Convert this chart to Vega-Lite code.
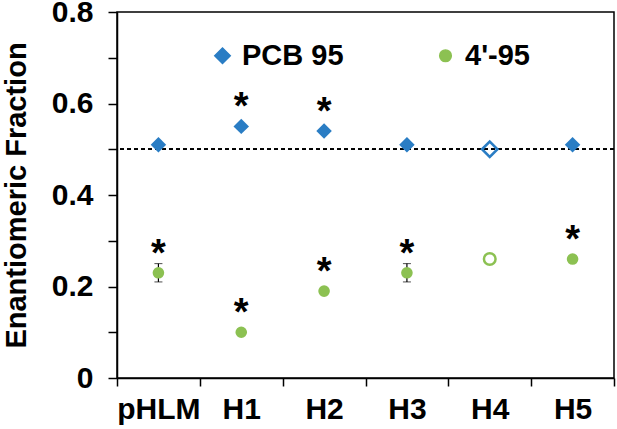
{
  "$schema": "https://vega.github.io/schema/vega-lite/v6.json",
  "autosize": {"type": "none"},
  "width": 497,
  "height": 366,
  "padding": {"left": 117, "top": 12, "right": 3, "bottom": 51},
  "background": "white",
  "config": {
    "view": {"stroke": "black", "strokeWidth": 1.5},
    "font": "Liberation Sans",
    "axis": {"labelFont": "Liberation Sans", "titleFont": "Liberation Sans", "labelFontWeight": "bold", "titleFontWeight": "bold", "labelColor": "black", "titleColor": "black", "domainColor": "black", "tickColor": "black", "domainWidth": 1.5, "tickWidth": 1.5, "grid": false}
  },
  "data": {
    "values": [
      {"cat": "pHLM", "series": "PCB 95", "value": 0.51, "open": false, "star": false},
      {"cat": "H1", "series": "PCB 95", "value": 0.55, "open": false, "star": true},
      {"cat": "H2", "series": "PCB 95", "value": 0.54, "open": false, "star": true},
      {"cat": "H3", "series": "PCB 95", "value": 0.51, "open": false, "star": false},
      {"cat": "H4", "series": "PCB 95", "value": 0.50, "open": true, "star": false},
      {"cat": "H5", "series": "PCB 95", "value": 0.51, "open": false, "star": false},
      {"cat": "pHLM", "series": "4'-95", "value": 0.23, "lo": 0.21, "hi": 0.25, "open": false, "star": true},
      {"cat": "H1", "series": "4'-95", "value": 0.10, "open": false, "star": true},
      {"cat": "H2", "series": "4'-95", "value": 0.19, "open": false, "star": true},
      {"cat": "H3", "series": "4'-95", "value": 0.23, "lo": 0.21, "hi": 0.25, "open": false, "star": true},
      {"cat": "H4", "series": "4'-95", "value": 0.26, "open": true, "star": false},
      {"cat": "H5", "series": "4'-95", "value": 0.26, "open": false, "star": true}
    ]
  },
  "encoding": {
    "x": {
      "field": "cat", "type": "nominal", "sort": ["pHLM", "H1", "H2", "H3", "H4", "H5"],
      "scale": {"paddingInner": 0, "paddingOuter": 0},
      "axis": {"title": null, "labelAngle": 0, "labelFontSize": 30, "tickBand": "extent", "tickSize": 8, "labelPadding": 8}
    },
    "y": {
      "field": "value", "type": "quantitative",
      "scale": {"domain": [0, 0.8], "nice": false},
      "axis": {
        "title": "Enantiomeric Fraction", "titleFontSize": 29, "labelFontSize": 30,
        "values": [0, 0.1, 0.2, 0.3, 0.4, 0.5, 0.6, 0.7, 0.8],
        "labelExpr": "datum.value == 0 ? '0' : (round(datum.value * 10) % 2 == 0 ? format(datum.value, '.1f') : '')",
        "tickSize": 9, "labelPadding": 15, "titlePadding": 20
      }
    }
  },
  "layer": [
    {
      "mark": {"type": "rule", "color": "black", "strokeWidth": 1, "strokeDash": [4, 3]},
      "encoding": {"y": {"datum": 0.5}, "x": null}
    },
    {
      "transform": [{"filter": "isValid(datum.lo)"}],
      "mark": {"type": "errorbar", "ticks": {"size": 8, "color": "black", "strokeWidth": 1.2}, "rule": {"color": "black", "strokeWidth": 1.2}},
      "encoding": {"y": {"field": "lo", "type": "quantitative"}, "y2": {"field": "hi"}}
    },
    {
      "transform": [{"filter": "!datum.open"}],
      "mark": {"type": "point", "filled": true, "opacity": 1},
      "encoding": {
        "color": {"field": "series", "type": "nominal", "scale": {"domain": ["PCB 95", "4'-95"], "range": ["#2A7DC4", "#8CC152"]},
          "legend": {"title": null, "orient": "none", "direction": "horizontal", "legendX": 91, "legendY": 29, "labelFontSize": 29, "labelFontWeight": "bold", "labelFont": "Liberation Sans", "labelColor": "black", "symbolSize": 250, "labelOffset": 5, "columnPadding": 87, "padding": 0, "symbolOpacity": 1}},
        "shape": {"field": "series", "type": "nominal", "scale": {"domain": ["PCB 95", "4'-95"], "range": ["diamond", "circle"]}},
        "size": {"field": "series", "type": "nominal", "scale": {"domain": ["PCB 95", "4'-95"], "range": [240, 135]}, "legend": null}
      }
    },
    {
      "transform": [{"filter": "datum.open"}],
      "mark": {"type": "point", "filled": false, "strokeWidth": 2.5, "opacity": 1},
      "encoding": {
        "color": {"field": "series", "type": "nominal", "legend": null},
        "shape": {"field": "series", "type": "nominal", "legend": null},
        "size": {"field": "series", "type": "nominal", "scale": {"domain": ["PCB 95", "4'-95"], "range": [130, 115]}, "legend": null}
      }
    },
    {
      "transform": [{"filter": "datum.star"}],
      "mark": {"type": "text", "text": "*", "fontSize": 38, "fontWeight": "bold", "font": "Liberation Sans", "color": "black", "baseline": "alphabetic", "dy": -7}
    }
  ]
}
